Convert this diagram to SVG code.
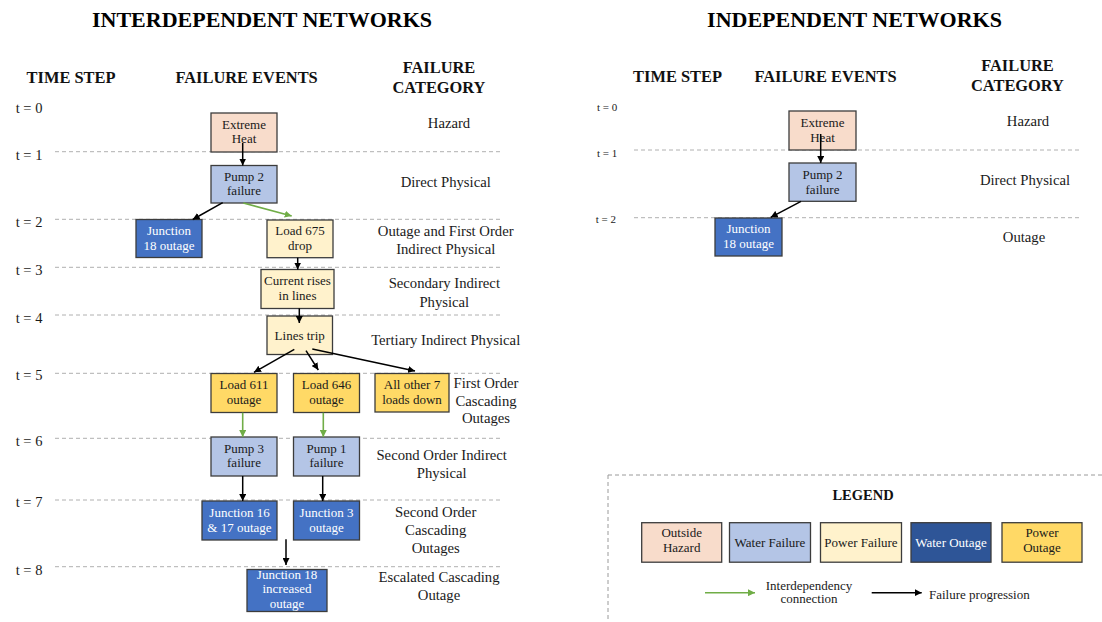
<svg xmlns="http://www.w3.org/2000/svg" width="1102" height="622" viewBox="0 0 1102 622">
<style>
text{font-family:"Liberation Serif","Times New Roman",serif;fill:#1a1a1a}
.title{font-size:22px;font-weight:bold;text-anchor:middle;fill:#000}
.hdr{font-size:16.4px;font-weight:bold;text-anchor:middle;fill:#111}
.ts{font-size:14.5px}
.tsr{font-size:11px}
.cat{font-size:14.7px;text-anchor:middle}
.bt{font-size:13px;text-anchor:middle}
.wt{fill:#fff}
.grid{stroke:#b0b0b0;stroke-width:1;stroke-dasharray:4 3;fill:none}
.box{stroke:#3c3c3c;stroke-width:1.3}
.haz{fill:#F8DCCB}
.wf{fill:#B4C5E6}
.pf{fill:#FFF2CC}
.wo{fill:#4472C4}
.wol{fill:#2E5597}
.po{fill:#FFD966}
.arr{stroke:#000;stroke-width:1.5;fill:none;marker-end:url(#ab)}
.garr{stroke:#70AD47;stroke-width:1.6;fill:none;marker-end:url(#ag)}
</style>
<defs>
<marker id="ab" viewBox="0 0 10 10" refX="10" refY="5" markerWidth="7" markerHeight="7" orient="auto" markerUnits="userSpaceOnUse"><path d="M0,0 L10,5 L0,10 z" fill="#000"/></marker>
<marker id="ag" viewBox="0 0 10 10" refX="10" refY="5" markerWidth="7" markerHeight="7" orient="auto" markerUnits="userSpaceOnUse"><path d="M0,0 L10,5 L0,10 z" fill="#70AD47"/></marker>
</defs>
<rect width="1102" height="622" fill="#fff"/>

<!-- Titles and headers -->
<text class="title" x="262" y="27">INTERDEPENDENT NETWORKS</text>
<text class="title" x="854.5" y="27">INDEPENDENT NETWORKS</text>
<text class="hdr" x="71" y="83">TIME STEP</text>
<text class="hdr" x="246.6" y="83">FAILURE EVENTS</text>
<text class="hdr" x="439" y="73">FAILURE</text>
<text class="hdr" x="439" y="93">CATEGORY</text>
<text class="hdr" x="677.5" y="82">TIME STEP</text>
<text class="hdr" x="825.5" y="82">FAILURE EVENTS</text>
<text class="hdr" x="1017.5" y="70.7">FAILURE</text>
<text class="hdr" x="1017.5" y="90.7">CATEGORY</text>

<!-- Time step labels -->
<g id="timesteps">
<text class="ts" x="15.7" y="112.7">t = 0</text>
<text class="ts" x="15.7" y="160">t = 1</text>
<text class="ts" x="15.7" y="227">t = 2</text>
<text class="ts" x="15.7" y="275">t = 3</text>
<text class="ts" x="15.7" y="322.7">t = 4</text>
<text class="ts" x="15.7" y="380">t = 5</text>
<text class="ts" x="15.7" y="446">t = 6</text>
<text class="ts" x="15.7" y="506.7">t = 7</text>
<text class="ts" x="15.7" y="575">t = 8</text>
<text class="tsr" x="597" y="111">t = 0</text>
<text class="tsr" x="597" y="156.7">t = 1</text>
<text class="tsr" x="595.7" y="222.7">t = 2</text>
</g>

<!-- Grid lines -->
<g id="grid" class="grid">
<line x1="55" y1="151.7" x2="503" y2="151.7"/>
<line x1="55" y1="219.3" x2="503" y2="219.3"/>
<line x1="55" y1="267.3" x2="503" y2="267.3"/>
<line x1="55" y1="315" x2="503" y2="315"/>
<line x1="55" y1="373.3" x2="503" y2="373.3"/>
<line x1="55" y1="438.3" x2="503" y2="438.3"/>
<line x1="55" y1="500" x2="503" y2="500"/>
<line x1="55" y1="566.7" x2="503" y2="566.7"/>
<line x1="634" y1="150" x2="1082" y2="150"/>
<line x1="634" y1="217.7" x2="1082" y2="217.7"/>
</g>

<!-- Failure categories -->
<g id="categories">
<text class="cat" x="449" y="127.7">Hazard</text>
<text class="cat" x="445.7" y="186.7">Direct Physical</text>
<text class="cat" x="445.7" y="235.7">Outage and First Order</text>
<text class="cat" x="445.7" y="254">Indirect Physical</text>
<text class="cat" x="444.3" y="288.3">Secondary Indirect</text>
<text class="cat" x="444.3" y="306.7">Physical</text>
<text class="cat" x="445.7" y="345">Tertiary Indirect Physical</text>
<text class="cat" x="486" y="388.3">First Order</text>
<text class="cat" x="486" y="405.7">Cascading</text>
<text class="cat" x="486" y="423.3">Outages</text>
<text class="cat" x="441.7" y="460">Second Order Indirect</text>
<text class="cat" x="441.7" y="478.3">Physical</text>
<text class="cat" x="435.7" y="516.7">Second Order</text>
<text class="cat" x="435.7" y="535">Cascading</text>
<text class="cat" x="435.7" y="552.7">Outages</text>
<text class="cat" x="439" y="581.7">Escalated Cascading</text>
<text class="cat" x="439" y="600">Outage</text>
<text class="cat" x="1028" y="126">Hazard</text>
<text class="cat" x="1025" y="185">Direct Physical</text>
<text class="cat" x="1024" y="241.7">Outage</text>
</g>

<!-- Nodes: interdependent -->
<g id="n-extreme-heat"><rect class="box haz" x="211" y="113" width="66" height="39"/><text class="bt" x="244" y="128.5">Extreme</text><text class="bt" x="244" y="143.3">Heat</text></g>
<g id="n-pump2"><rect class="box wf" x="211" y="165.5" width="66" height="37.5"/><text class="bt" x="244" y="180.7">Pump 2</text><text class="bt" x="244" y="195">failure</text></g>
<g id="n-junction18"><rect class="box wo" x="136" y="219.5" width="66" height="38"/><text class="bt wt" x="169" y="235">Junction</text><text class="bt wt" x="169" y="249.5">18 outage</text></g>
<g id="n-load675"><rect class="box pf" x="267" y="220" width="66" height="37.7"/><text class="bt" x="300" y="235">Load 675</text><text class="bt" x="300" y="249.5">drop</text></g>
<g id="n-current"><rect class="box pf" x="261" y="269.5" width="73" height="39"/><text class="bt" x="297.5" y="285">Current rises</text><text class="bt" x="297.5" y="299.5">in lines</text></g>
<g id="n-linestrip"><rect class="box pf" x="267" y="316" width="65.5" height="38.5"/><text class="bt" x="299.7" y="339.5">Lines trip</text></g>
<g id="n-load611"><rect class="box po" x="211" y="373.5" width="66" height="39"/><text class="bt" x="244" y="389">Load 611</text><text class="bt" x="244" y="404">outage</text></g>
<g id="n-load646"><rect class="box po" x="293.5" y="373.5" width="66" height="39"/><text class="bt" x="326.5" y="389">Load 646</text><text class="bt" x="326.5" y="404">outage</text></g>
<g id="n-allother"><rect class="box po" x="375" y="373.5" width="74" height="38.5"/><text class="bt" x="412" y="389">All other 7</text><text class="bt" x="412" y="403.5">loads down</text></g>
<g id="n-pump3"><rect class="box wf" x="211" y="437" width="66" height="39"/><text class="bt" x="244" y="452.5">Pump 3</text><text class="bt" x="244" y="467">failure</text></g>
<g id="n-pump1"><rect class="box wf" x="293.5" y="437" width="66" height="39"/><text class="bt" x="326.5" y="452.5">Pump 1</text><text class="bt" x="326.5" y="467">failure</text></g>
<g id="n-junction1617"><rect class="box wo" x="202" y="501" width="75" height="39"/><text class="bt wt" x="239.5" y="516.5">Junction 16</text><text class="bt wt" x="239.5" y="531.5">&amp; 17 outage</text></g>
<g id="n-junction3"><rect class="box wo" x="293.5" y="501" width="66" height="39"/><text class="bt wt" x="326.5" y="516.5">Junction 3</text><text class="bt wt" x="326.5" y="531.5">outage</text></g>
<g id="n-junction18inc"><rect class="box wo" x="247" y="569.5" width="80" height="42"/><text class="bt wt" x="287" y="578.5">Junction 18</text><text class="bt wt" x="287" y="593.3">increased</text><text class="bt wt" x="287" y="608">outage</text></g>

<!-- Nodes: independent -->
<g id="r-extreme-heat"><rect class="box haz" x="789" y="111" width="67" height="39"/><text class="bt" x="822.5" y="127">Extreme</text><text class="bt" x="822.5" y="141.5">Heat</text></g>
<g id="r-pump2"><rect class="box wf" x="789" y="163" width="67" height="38.3"/><text class="bt" x="822.5" y="179">Pump 2</text><text class="bt" x="822.5" y="193.5">failure</text></g>
<g id="r-junction18"><rect class="box wo" x="715" y="218" width="67" height="38"/><text class="bt wt" x="748.5" y="233">Junction</text><text class="bt wt" x="748.5" y="247.5">18 outage</text></g>

<!-- Connectors -->
<g id="connectors">
<line class="arr" x1="242.7" y1="143" x2="242.7" y2="165.5"/>
<line class="arr" x1="222.7" y1="202.7" x2="192.7" y2="219.5"/>
<line class="garr" x1="243.3" y1="203" x2="291.7" y2="216"/>
<line class="arr" x1="297.7" y1="257.7" x2="297.7" y2="269.5"/>
<line class="arr" x1="299.3" y1="308.3" x2="299.3" y2="323"/>
<line class="arr" x1="294.3" y1="349.3" x2="254" y2="372.3"/>
<line class="arr" x1="306" y1="350.7" x2="318.3" y2="370"/>
<line class="arr" x1="312.3" y1="349" x2="415" y2="371"/>
<line class="garr" x1="242.7" y1="412.7" x2="242.7" y2="437"/>
<line class="garr" x1="323.3" y1="412.7" x2="323.3" y2="437"/>
<line class="arr" x1="242.7" y1="476" x2="242.7" y2="501"/>
<line class="arr" x1="322.7" y1="476" x2="322.7" y2="501"/>
<line class="arr" x1="286" y1="539.3" x2="286" y2="565"/>
<line class="arr" x1="820.7" y1="134" x2="820.7" y2="163"/>
<line class="arr" x1="801" y1="201.3" x2="770.7" y2="217.3"/>
</g>

<!-- Legend -->
<g id="legend">
<rect x="608" y="475" width="500" height="160" fill="none" stroke="#9a9a9a" stroke-width="1" stroke-dasharray="4 3"/>
<text x="863" y="500" style="font-size:14.5px;font-weight:bold;text-anchor:middle;fill:#111">LEGEND</text>
<g id="lg-hazard"><rect class="box haz" x="641.7" y="522.7" width="80" height="39.5"/><text class="bt" x="681.7" y="536.7">Outside</text><text class="bt" x="681.7" y="551.7">Hazard</text></g>
<g id="lg-wf"><rect class="box wf" x="729.5" y="522.7" width="81" height="39.5"/><text class="bt" x="770" y="546.5">Water Failure</text></g>
<g id="lg-pf"><rect class="box pf" x="820.5" y="522.7" width="81" height="39.5"/><text class="bt" x="861" y="546.5">Power Failure</text></g>
<g id="lg-wo"><rect class="box wol" x="911" y="522.7" width="80" height="39.5"/><text class="bt wt" x="951" y="546.5">Water Outage</text></g>
<g id="lg-po"><rect class="box po" x="1002" y="522.7" width="80" height="39.5"/><text class="bt" x="1042" y="536.7">Power</text><text class="bt" x="1042" y="551.7">Outage</text></g>
<line class="garr" x1="705" y1="592.7" x2="755" y2="592.7"/>
<text class="bt" x="809" y="590">Interdependency</text>
<text class="bt" x="809" y="603.3">connection</text>
<line class="arr" x1="871.7" y1="592.7" x2="921.7" y2="592.7"/>
<text x="929" y="599.3" style="font-size:13px">Failure progression</text>
</g>
</svg>
